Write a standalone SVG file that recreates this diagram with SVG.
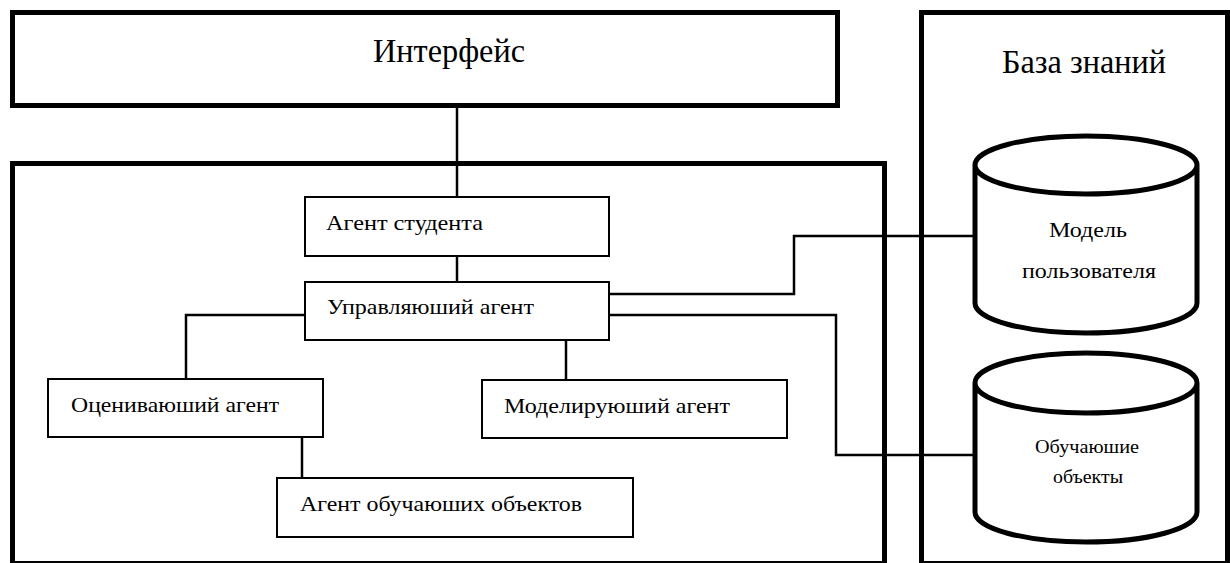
<svg xmlns="http://www.w3.org/2000/svg" width="1230" height="563" viewBox="0 0 1230 563">
<style>
.big{fill:#fff;stroke:#000;stroke-width:5}
.box{fill:#fff;stroke:#000;stroke-width:2}
.cyl{fill:#fff;stroke:#000;stroke-width:5}
.conn{fill:none;stroke:#000;stroke-width:2.5}
text{font-family:"Liberation Serif","Times New Roman","DejaVu Serif","Noto Serif",serif;fill:#000}
.t1{font-size:33px}
.t2{font-size:21px}
.t3{font-size:21px}
.t4{font-size:19px}
</style>
<rect width="1230" height="563" fill="#fff"/>
<g id="interface">
<rect class="big" x="12.5" y="12.5" width="825" height="93"/>
<text class="t1" x="373" y="62" textLength="152" lengthAdjust="spacingAndGlyphs">Интерфейс</text>
</g>
<g id="system">
<rect class="big" x="12.5" y="163.5" width="872" height="400"/>
</g>
<g id="kb">
<rect class="big" x="921.5" y="12.5" width="306" height="551"/>
<text class="t1" x="1002" y="73" textLength="164" lengthAdjust="spacingAndGlyphs">База знаний</text>
</g>
<g id="connectors">
<path class="conn" d="M457 106V197"/>
<path class="conn" d="M457 256V282"/>
<path class="conn" d="M305 315H186V379"/>
<path class="conn" d="M566 340V380"/>
<path class="conn" d="M302 437V478"/>
<path class="conn" d="M609 294H794V236H975"/>
<path class="conn" d="M609 315H836V455H975"/>
</g>
<g id="student">
<rect class="box" x="305" y="197" width="304" height="59"/>
<text class="t2" x="326" y="230" textLength="157" lengthAdjust="spacingAndGlyphs">Агент студента</text>
</g>
<g id="manager">
<rect class="box" x="305" y="282" width="304" height="58"/>
<text class="t2" x="327" y="314" textLength="207" lengthAdjust="spacingAndGlyphs">Управляюший агент</text>
</g>
<g id="evaluator">
<rect class="box" x="48" y="379" width="275" height="58"/>
<text class="t2" x="71" y="412" textLength="208" lengthAdjust="spacingAndGlyphs">Оцениваюший агент</text>
</g>
<g id="modeler">
<rect class="box" x="482" y="380" width="305" height="58"/>
<text class="t2" x="504" y="413" textLength="226" lengthAdjust="spacingAndGlyphs">Моделируюший агент</text>
</g>
<g id="learning-agent">
<rect class="box" x="277" y="478" width="356" height="59"/>
<text class="t2" x="300" y="511" textLength="282" lengthAdjust="spacingAndGlyphs">Агент обучаюших объектов</text>
</g>
<g id="user-model">
<path class="cyl" d="M975 165V303A111 30 0 0 0 1197 303V165A111 29 0 0 0 975 165A111 29 0 0 0 1197 165"/>
<text class="t3" x="1049" y="237" textLength="78" lengthAdjust="spacingAndGlyphs">Модель</text>
<text class="t3" x="1022" y="278" textLength="134" lengthAdjust="spacingAndGlyphs">пользователя</text>
</g>
<g id="learning-objects">
<path class="cyl" d="M975 383V512A111 30 0 0 0 1197 512V383A111 30 0 0 0 975 383A111 30 0 0 0 1197 383"/>
<text class="t4" x="1035" y="453" textLength="104" lengthAdjust="spacingAndGlyphs">Обучаюшие</text>
<text class="t4" x="1053" y="483" textLength="70" lengthAdjust="spacingAndGlyphs">объекты</text>
</g>
</svg>
